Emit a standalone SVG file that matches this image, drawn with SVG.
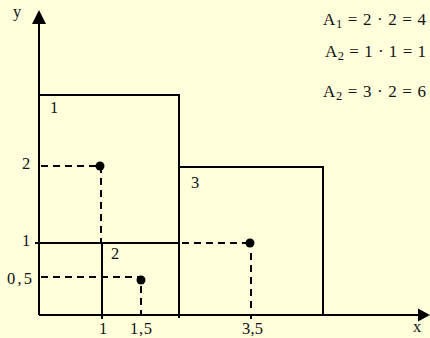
<svg xmlns="http://www.w3.org/2000/svg" width="430" height="338" viewBox="0 0 430 338">
<style>
  .ln { stroke: #000; stroke-width: 2; fill: none; }
  .dash { stroke: #000; stroke-width: 2; fill: none; stroke-dasharray: 7 5; }
  .t { font-family: "Liberation Serif", "Times New Roman", serif; font-size: 16.5px; fill: #111; }
  .eq { font-family: "Liberation Serif", "Times New Roman", serif; font-size: 17px; fill: #111; }
  .sub { font-size: 12.5px; }
  .dot { fill: #000; }
</style>
<rect x="0" y="0" width="430" height="338" fill="#FFFFDC"/>

<g id="axes">
  <line class="ln" x1="39" y1="315" x2="39" y2="22"/>
  <polygon points="39,10 32,24 46,24" fill="#000"/>
  <line class="ln" x1="39" y1="315" x2="419" y2="315"/>
  <polygon points="430,315 418,308.5 418,321.5" fill="#000"/>
  <text class="t" x="13" y="17">y</text>
  <text class="t" x="413" y="332">x</text>
</g>

<g id="rect1">
  <polyline class="ln" points="39,95 179,95 179,318"/>
  <text class="t" x="50" y="113">1</text>
</g>

<g id="rect2">
  <line class="ln" x1="35" y1="243" x2="179" y2="243"/>
  <line class="ln" x1="102" y1="243" x2="102" y2="319"/>
  <text class="t" x="111" y="259">2</text>
</g>

<g id="rect3">
  <polyline class="ln" points="179,167 323,167 323,315"/>
  <text class="t" x="191" y="188">3</text>
</g>

<g id="connectors">
  <line class="dash" x1="41" y1="166" x2="100" y2="166"/>
  <line class="dash" x1="101" y1="166" x2="101" y2="243"/>
  <line class="dash" x1="41" y1="277" x2="141" y2="277"/>
  <line class="dash" x1="141" y1="286" x2="141" y2="314"/>
  <line class="dash" x1="182" y1="243" x2="250" y2="243"/>
  <line class="dash" x1="251" y1="253" x2="251" y2="310"/>
  <line class="ln" x1="251" y1="314" x2="251" y2="319"/>
  <circle class="dot" cx="100" cy="166" r="4.5"/>
  <circle class="dot" cx="141" cy="280" r="4.5"/>
  <circle class="dot" cx="250" cy="243" r="4.5"/>
</g>

<g id="ticklabels">
  <text class="t" x="22" y="169">2</text>
  <text class="t" x="22" y="246">1</text>
  <text class="t" x="7" y="284" textLength="25" lengthAdjust="spacing">0,5</text>
  <text class="t" x="99" y="334">1</text>
  <text class="t" x="130" y="334" textLength="22" lengthAdjust="spacing">1,5</text>
  <text class="t" x="242" y="334" textLength="21" lengthAdjust="spacing">3,5</text>
</g>

<g id="equations">
  <text class="eq" x="323" y="25" textLength="103" lengthAdjust="spacing">A<tspan class="sub" dy="3">1</tspan><tspan dy="-3"> = 2 · 2 = 4</tspan></text>
  <text class="eq" x="325" y="57" textLength="101" lengthAdjust="spacing">A<tspan class="sub" dy="3">2</tspan><tspan dy="-3"> = 1 · 1 = 1</tspan></text>
  <text class="eq" x="323" y="97" textLength="103" lengthAdjust="spacing">A<tspan class="sub" dy="3">2</tspan><tspan dy="-3"> = 3 · 2 = 6</tspan></text>
</g>
</svg>
